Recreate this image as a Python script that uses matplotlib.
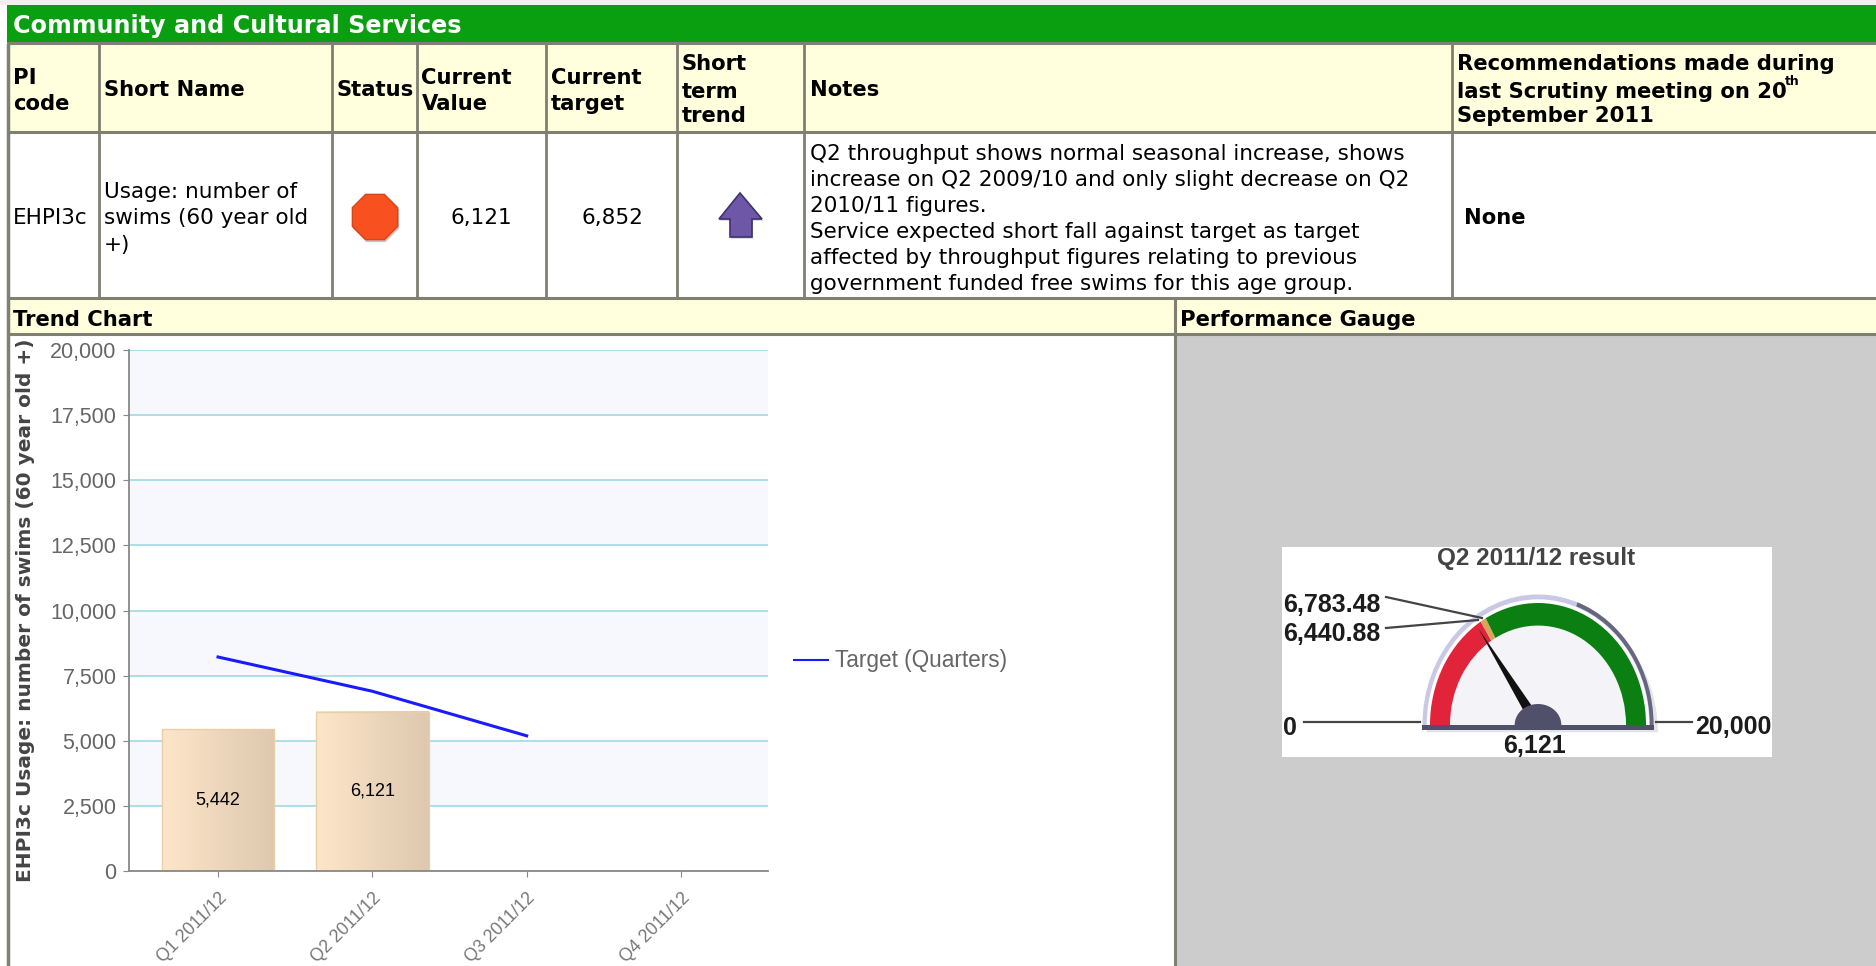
import numpy as np
import matplotlib
matplotlib.use("Agg")
import matplotlib.pyplot as plt
from matplotlib.patches import Rectangle, RegularPolygon, Polygon, Wedge

W, H = 1876, 966

quarters = ["Q1 2011/12", "Q2 2011/12", "Q3 2011/12", "Q4 2011/12"]
actual = [5442, 6121]
target = [8215, 6900, 5190]
y_ticks = [0, 2500, 5000, 7500, 10000, 12500, 15000, 17500, 20000]

gauge_min, gauge_max = 0, 20000
gauge_low, gauge_high = 6440.88, 6783.48
gauge_value = 6121

col_lines = [99, 332, 417, 546, 677, 804, 1452]
row_lines = [43, 132, 298, 334]
notes_lines = [
    "Q2 throughput shows normal seasonal increase, shows",
    "increase on Q2 2009/10 and only slight decrease on Q2",
    "2010/11 figures.",
    "Service expected short fall against target as target",
    "affected by throughput figures relating to previous",
    "government funded free swims for this age group.",
]

GREEN = "#0a9f10"
CREAM = "#ffffdd"
BORDER = "#7f7f72"
GREY = "#cccccc"
FS = 15.5
FS_BOLD = 15.2


def pixel_axes(zorder):
    a = fig.add_axes([0, 0, 1, 1], zorder=zorder)
    a.set_xlim(0, W)
    a.set_ylim(H, 0)
    a.axis("off")
    return a


def cell(a, x, y, s, bold=False, ha="left", color="black", size=None):
    if size is None:
        size = FS_BOLD if bold else FS
    a.text(x, y + 1.5, s, ha=ha, va="center", color=color, fontsize=size,
           fontweight="bold" if bold else "normal")


fig = plt.figure(figsize=(W / 100, H / 100), dpi=100, facecolor="white")

# table background
bg = pixel_axes(0)
bg.add_patch(Rectangle((0, 0), W, 5, fc="#f0f0f0", ec="none"))
bg.add_patch(Rectangle((7, 5), W, 38, fc=GREEN, ec="none"))
bg.add_patch(Rectangle((7, row_lines[0]), W, row_lines[1] - row_lines[0], fc=CREAM, ec="none"))
bg.add_patch(Rectangle((7, row_lines[2]), W, row_lines[3] - row_lines[2], fc=CREAM, ec="none"))
bg.add_patch(Rectangle((1175, row_lines[3]), W, H, fc=GREY, ec="none"))
for y in row_lines:
    bg.plot([7, W], [y, y], color=BORDER, lw=2.2, solid_capstyle="butt")
for x in col_lines:
    bg.plot([x, x], [row_lines[0], row_lines[2]], color=BORDER, lw=2, solid_capstyle="butt")
bg.plot([7.5, 7.5], [row_lines[0], H], color=BORDER, lw=2.5, solid_capstyle="butt")
bg.plot([1175, 1175], [row_lines[2], H], color=BORDER, lw=2.2, solid_capstyle="butt")

cell(bg, 13, 25, "Community and Cultural Services", bold=True, color="white", size=17.2)
cell(bg, 13, 76, "PI", bold=True)
cell(bg, 13, 103, "code", bold=True)
cell(bg, 103.5, 89, "Short Name", bold=True)
cell(bg, 336, 89, "Status", bold=True)
cell(bg, 421.5, 76, "Current", bold=True)
cell(bg, 421.5, 102, "Value", bold=True)
cell(bg, 551, 76, "Current", bold=True)
cell(bg, 551, 102, "target", bold=True)
cell(bg, 681.5, 63, "Short", bold=True)
cell(bg, 681.5, 90, "term", bold=True)
cell(bg, 681.5, 115, "trend", bold=True)
cell(bg, 810, 89, "Notes", bold=True)
cell(bg, 1457, 63, "Recommendations made during", bold=True)
cell(bg, 1457, 90, "last Scrutiny meeting on 20", bold=True)
cell(bg, 1785, 80, "th", bold=True, size=9)
cell(bg, 1457, 115, "September 2011", bold=True)

cell(bg, 13, 216, "EHPI3c")
cell(bg, 103.5, 191, "Usage: number of")
cell(bg, 103.5, 217, "swims (60 year old")
cell(bg, 103.5, 243, "+)")
cell(bg, 481, 216, f"{gauge_value:,}", ha="center")
cell(bg, 612, 216, "6,852", ha="center")
for i, line in enumerate(notes_lines):
    cell(bg, 810, 152 + 26 * i, line)
cell(bg, 1464, 216, "None", bold=True)
cell(bg, 13, 318, "Trend Chart", bold=True)
cell(bg, 1180, 318, "Performance Gauge", bold=True)

# status and trend icons
bg.add_patch(RegularPolygon((376, 219), 8, radius=25, orientation=np.pi / 8, fc="#c9c3bd", ec="none"))
bg.add_patch(RegularPolygon((375, 217), 8, radius=24.5, orientation=np.pi / 8, fc="#f9501f", ec="#d8431a", lw=1))
arrow = np.array([[740, 193], [762, 219], [752, 219], [752, 237], [730, 237], [730, 219], [719, 219]])
bg.add_patch(Polygon(arrow + [1, 1.5], fc="#bdbdbd", ec="none"))
bg.add_patch(Polygon(arrow, fc="#6f57a8", ec="#3d3170", lw=1.2))

# trend chart
ax = fig.add_axes([129 / W, (H - 871) / H, 639 / W, 521 / H], zorder=1)
x_pos = np.arange(len(quarters))
for i in range(len(y_ticks) - 1):
    if (len(y_ticks) - 2 - i) % 2 == 0:
        ax.axhspan(y_ticks[i], y_ticks[i + 1], fc="#f7f8fe", ec="none", zorder=0)
ax.set_yticks(y_ticks)
ax.set_yticklabels([f"{v:,}" for v in y_ticks], fontfamily="Liberation Sans", fontsize=15.5, color="#666666")
ax.set_xticks(x_pos)
ax.set_xticklabels(quarters, rotation=45, ha="right", rotation_mode="anchor",
                   fontfamily="Liberation Sans", fontsize=12.7, color="#777777")
ax.tick_params(axis="y", length=4, color="#888888", pad=5)
ax.tick_params(axis="x", length=4, color="#888888", pad=9)
ax.grid(axis="y", color="#acdfe6", lw=1.4, zorder=1)
ax.set_axisbelow(True)
for s in ["top", "right"]:
    ax.spines[s].set_visible(False)
for s in ["left", "bottom"]:
    ax.spines[s].set_color("#888888")
    ax.spines[s].set_linewidth(1.3)
ax.set_ylabel("EHPI3c Usage: number of swims (60 year old +)", fontweight="bold", fontsize=14.5, color="#444444")
ax.yaxis.set_label_coords(-94 / 639, 0.5)

bars = ax.bar(x_pos[:len(actual)], actual, width=0.73, color="none", edgecolor="#e8cfa8", lw=1, zorder=2)
ramp = np.linspace(0, 1, 64)[None, :, None]
c0 = np.array([253, 230, 200]) / 255
c1 = np.array([222, 200, 175]) / 255
grad = c0 + (c1 - c0) * ramp
for b, v in zip(bars, actual):
    ax.imshow(grad, extent=[b.get_x(), b.get_x() + b.get_width(), 0, v], aspect="auto", zorder=1.5)
    ax.text(b.get_x() + b.get_width() / 2, v / 2, f"{v:,}", ha="center", va="center",
            fontfamily="Liberation Sans", fontsize=13, color="black", zorder=4)
ax.set_xlim(-89 / 154.3, 3 + 87 / 154.3)
ax.set_ylim(y_ticks[0], y_ticks[-1])
ax.plot(x_pos[:len(target)], target, color="#1a1aff", lw=2.2, zorder=3, label="Target (Quarters)")
leg = ax.legend(loc="center left", bbox_to_anchor=((794 - 129) / 639, (871 - 661) / 521), frameon=False,
                prop={"family": "Liberation Sans", "size": 16.3}, labelcolor="#666666",
                handlelength=1.5, handletextpad=0.3, borderpad=0, borderaxespad=0)
leg.get_lines()[0].set_linewidth(1.5)

# gauge: x in units of 108 px, y in units of 122 px, centre at (1538, 725)
gx0, gx1, gy0, gy1 = 1282, 1772, 547, 757
g = fig.add_axes([gx0 / W, (H - gy1) / H, (gx1 - gx0) / W, (gy1 - gy0) / H], zorder=1)
g.set_xlim((gx0 - 1538) / 108, (gx1 - 1538) / 108)
g.set_ylim((725 - gy1) / 122, (725 - gy0) / 122)
g.axis("off")
g.add_patch(Rectangle((-3, -1), 6, 3, fc="white", ec="none", zorder=0))


def angle(v):
    return 180 * (1 - (v - gauge_min) / (gauge_max - gauge_min))


g.add_patch(Wedge((0.04, -0.06), 1.07, 0, 180, fc="#e4e4e4", ec="none", zorder=0.5))
g.add_patch(Wedge((0, 0), 1.07, 0, 180, fc="#c9c9e6", ec="none", zorder=1))
g.add_patch(Wedge((0, 0), 1.07, 0, 70, width=0.035, fc="#66667f", ec="none", zorder=1.1))
g.add_patch(Wedge((0, 0), 1.03, 0, 180, fc="white", ec="none", zorder=1.2))
g.add_patch(Wedge((0, 0), 0.82, 0, 180, fc="#f3f3f8", ec="none", zorder=1.3))
g.add_patch(Wedge((0, 0), 1.0, angle(gauge_low), 180, width=0.185, fc="#e2243a", ec="none", zorder=2))
g.add_patch(Wedge((0, 0), 1.0, angle(gauge_high), angle(gauge_low), width=0.185, fc="#d9a35a", ec="none", zorder=2))
g.add_patch(Wedge((0, 0), 1.0, 0, angle(gauge_high), width=0.185, fc="#0b7f12", ec="none", zorder=2))

th = np.radians(angle(gauge_value))
tip = np.array([np.cos(th), np.sin(th)]) * 0.96
base = np.array([np.cos(th), np.sin(th)]) * 0.12
perp = np.array([-np.sin(th), np.cos(th)]) * 0.045
g.add_patch(Polygon([tip, base + perp, base - perp], fc="#111111", ec="none", zorder=3))
t = np.linspace(0, np.pi, 60)
g.add_patch(Polygon(np.c_[0.216 * np.cos(t), 0.172 * np.sin(t)], fc="#50506a", ec="none", zorder=4))
g.add_patch(Rectangle((-1.07, -0.04), 2.14, 0.04, fc="#50506a", ec="none", zorder=5))

# gauge labels
over = pixel_axes(2)
over.patch.set_alpha(0)
over.plot([1304, 1420], [722, 722], color="#444444", lw=1.6)
over.plot([1656, 1692], [722, 722], color="#444444", lw=1.6)
over.plot([1386, 1482], [597, 618], color="#444444", lw=1.6)
over.plot([1386, 1478], [628, 620], color="#444444", lw=1.6)
lab = dict(fontfamily="Liberation Sans", fontweight="bold", fontsize=18, color="#1c1c1c", va="center")
over.text(1536, 559, "Q2 2011/12 result", ha="center", fontfamily="Liberation Sans", fontweight="bold",
          fontsize=17.5, color="#444444", va="center")
over.text(1283, 605, f"{gauge_high:,.2f}", ha="left", **lab)
over.text(1283, 634, f"{gauge_low:,.2f}", ha="left", **lab)
over.text(1283, 728, f"{gauge_min:,}", ha="left", **lab)
over.text(1771, 727, f"{gauge_max:,}", ha="right", **lab)
over.text(1534, 746, f"{gauge_value:,}", ha="center", **lab)

fig.savefig("out.png", dpi=100)
